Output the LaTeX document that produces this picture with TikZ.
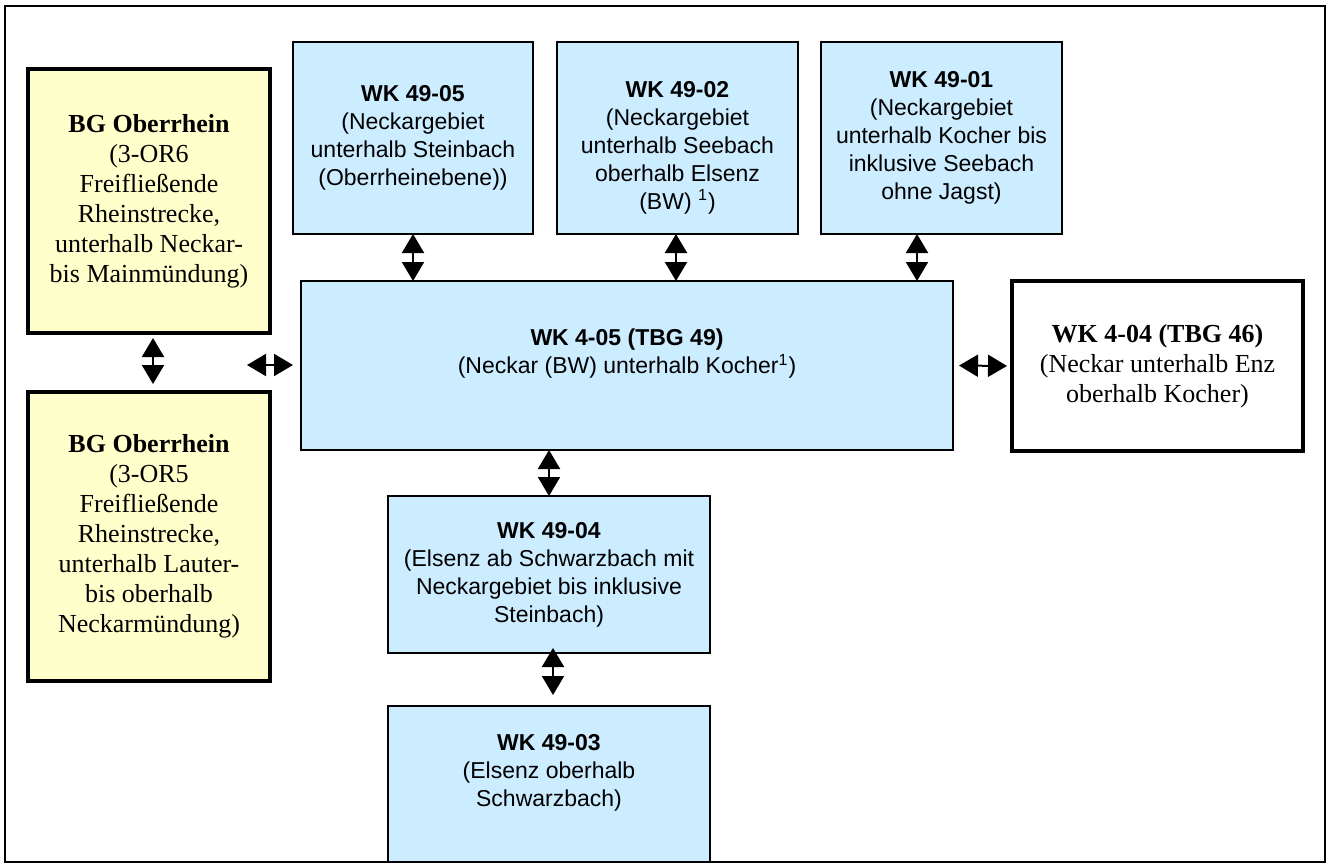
\documentclass[tikz,border=0pt]{standalone}
\usepackage{fontspec}
\setmainfont{Liberation Serif}
\setsansfont{Liberation Sans}
\usetikzlibrary{arrows.meta, positioning, calc}

\definecolor{wkblue}{HTML}{CCECFF}
\definecolor{bgyellow}{HTML}{FFFFCC}

\begin{document}
\begin{tikzpicture}[x=0.5pt, y=-0.5pt,
    wkbox/.style={draw, line width=0.8pt, fill=wkblue, align=center, inner sep=2pt, outer sep=0pt,
        font=\sffamily\fontsize{11.5}{14}\selectfont},
    bgbox/.style={draw, line width=2pt, fill=bgyellow, align=center, inner sep=2pt, outer sep=0pt,
        font=\rmfamily\fontsize{13}{15}\selectfont},
    link/.style={line width=1pt, {Triangle[width=11pt,length=9.5pt]}-{Triangle[width=11pt,length=9.5pt]}}]
    \useasboundingbox (0,0) rectangle (1330,867);
    % Frame
    \draw[line width=0.8pt] (5,6) rectangle (1325,862);

    % BG Oberrhein
    \node[bgbox, minimum width=121pt, minimum height=132pt] (bgtop) at (149,201)
        {\textbf{BG Oberrhein}\\(3-OR6\\Freifließende\\Rheinstrecke,\\unterhalb Neckar-\\bis Mainmündung)};
    \node[bgbox, minimum width=121pt, minimum height=144.5pt] (bgbot) at (149,536.5)
        {\textbf{BG Oberrhein}\\(3-OR5\\Freifließende\\Rheinstrecke,\\unterhalb Lauter-\\bis oberhalb\\Neckarmündung)};

    % Upper row
    \node[wkbox, minimum width=120pt, minimum height=96pt] (wk4905) at (413,138)
        {\textbf{WK 49-05}\\(Neckargebiet\\unterhalb Steinbach\\(Oberrheinebene))};
    \node[wkbox, minimum width=120.5pt, minimum height=96pt] (wk4902) at (677.5,138)
        {\rule{0pt}{18pt}\textbf{WK 49-02}\\(Neckargebiet\\unterhalb Seebach\\oberhalb Elsenz\\(BW) \textsuperscript{1})};
    \node[wkbox, minimum width=120.5pt, minimum height=96pt] (wk4901) at (941.5,138)
        {\textbf{WK 49-01}\\(Neckargebiet\\unterhalb Kocher bis\\inklusive Seebach\\ohne Jagst)};

    % Middle
    \node[wkbox, minimum width=326pt, minimum height=84.5pt] (wk405) at (627,365.5)
        {\textbf{WK 4-05 (TBG 49)}\\(Neckar (BW) unterhalb Kocher\textsuperscript{1})\\~};
    \node[bgbox, fill=white, minimum width=145.5pt, minimum height=85pt] (wk404) at (1157.5,366)
        {\textbf{WK 4-04 (TBG 46)}\\(Neckar unterhalb Enz\\oberhalb Kocher)};

    % Lower column
    \node[wkbox, minimum width=161pt, minimum height=78.5pt] (wk4904) at (549,574.5)
        {\textbf{WK 49-04}\\(Elsenz ab Schwarzbach mit\\Neckargebiet bis inklusive\\Steinbach)};
    \node[wkbox, minimum width=161pt, minimum height=78pt] (wk4903) at (549,784)
        {\textbf{WK 49-03}\\(Elsenz oberhalb\\Schwarzbach)\\~};

    % Arrows
    \draw[link] (wk4905.south) -- (wk4905.south |- wk405.north);
    \draw[link] ([xshift=-0.75pt]wk4902.south) -- ([xshift=-0.75pt]wk4902.south |- wk405.north);
    \draw[link] ([xshift=-12.25pt]wk4901.south) -- ([xshift=-12.25pt]wk4901.south |- wk405.north);
    \draw[link] (wk4904.north |- wk405.south) -- (wk4904.north);
    \draw[link, shorten <=-2.5pt, shorten >=5.5pt] ([xshift=2pt]wk4904.south) -- ([xshift=2pt]wk4903.north);
    \draw[link, shorten <=2.5pt, shorten >=4pt] ([xshift=2pt]bgtop.south) -- ([xshift=2pt]bgbot.north);
    \coordinate (bgjoin) at (247,365);
    \draw[link, shorten >=4pt] (bgjoin) -- (bgjoin -| wk405.west);
    \draw[link, shorten <=3pt, shorten >=2.5pt] (wk405.east) -- (wk404.west);
\end{tikzpicture}
\end{document}
